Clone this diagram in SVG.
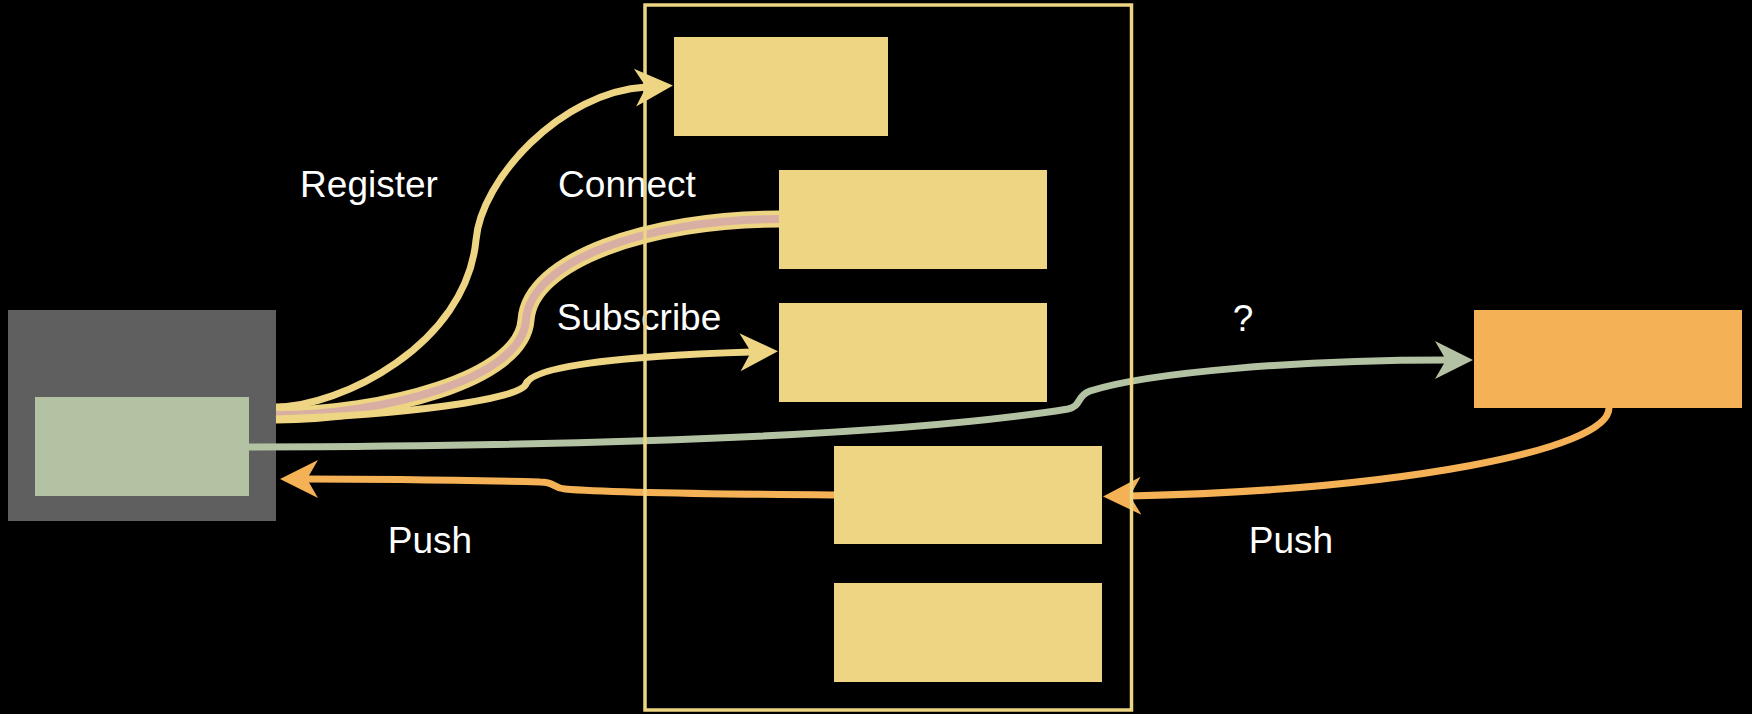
<svg xmlns="http://www.w3.org/2000/svg" width="1752" height="714" viewBox="0 0 1752 714">
<style>
.bg{fill:#000}
.yel{fill:#EDD583}
.lbl{font-family:"Liberation Sans",Arial,sans-serif;font-size:37px;fill:#FFFFFF;text-anchor:middle}
.ln{fill:none;stroke-width:7;stroke-linecap:butt;stroke-linejoin:round}
</style>
<defs>
<marker id="aY" markerUnits="userSpaceOnUse" viewBox="-12 -20 40 40" refX="0" refY="0" markerWidth="40" markerHeight="40" orient="auto" overflow="visible">
<path d="M27 0 L-11 -19 L0 0 L-11 19 Z" fill="#EDD583"/>
</marker>
<marker id="aG" markerUnits="userSpaceOnUse" viewBox="-12 -20 40 40" refX="0" refY="0" markerWidth="40" markerHeight="40" orient="auto" overflow="visible">
<path d="M27 0 L-11 -19 L0 0 L-11 19 Z" fill="#B3C2A3"/>
</marker>
<marker id="aO" markerUnits="userSpaceOnUse" viewBox="-12 -20 40 40" refX="0" refY="0" markerWidth="40" markerHeight="40" orient="auto" overflow="visible">
<path d="M27 0 L-11 -19 L0 0 L-11 19 Z" fill="#F5B155"/>
</marker>
</defs>
<rect class="bg" x="0" y="0" width="1752" height="714"/>

<g id="client-outer"><rect x="8" y="310" width="268" height="211" fill="#5F5F5F"/></g>
<g id="client-inner"><rect x="35" y="397" width="214" height="99" fill="#B3C2A3"/></g>
<g id="box1"><rect class="yel" x="674" y="37" width="214" height="99"/></g>
<g id="box2"><rect class="yel" x="779" y="170" width="268" height="99"/></g>
<g id="box3"><rect class="yel" x="779" y="303" width="268" height="99"/></g>
<g id="box4"><rect class="yel" x="834" y="446" width="268" height="98"/></g>
<g id="box5"><rect class="yel" x="834" y="583" width="268" height="99"/></g>
<g id="external"><rect x="1474" y="310" width="268" height="98" fill="#F5B155"/></g>

<g id="connectors">
<path class="ln" stroke="#EDD583" d="M276 407 C340 407 466 345 476 240 C481 180 560 92 646 87" marker-end="url(#aY)"/>
<path fill="none" stroke="#EDD583" stroke-width="17" d="M779 219 C650 219 530 260 526 320 C522 380 380 415 276 415"/>
<path fill="none" stroke="#D9AFA3" stroke-width="8" d="M779 219 C650 219 530 260 526 320 C522 380 380 415 276 415"/>
<path class="ln" stroke="#EDD583" d="M276 419 C400 415 520 400 526 384 C532 366 620 356 751 352" marker-end="url(#aY)"/>
<path class="ln" stroke="#B3C2A3" d="M249 447 C600 446 900 436 1068 409 C1082 406 1076 396 1090 391 C1150 372 1300 360 1446 360" marker-end="url(#aG)"/>
<path class="ln" stroke="#F5B155" d="M1609 408 C1609 450 1400 490 1130 496" marker-end="url(#aO)"/>
<path class="ln" stroke="#F5B155" d="M834 495 C700 494 600 492 565 489 C552 488 556 482 540 482 C450 480 380 479 307 479" marker-end="url(#aO)"/>
</g>

<g id="labels">
<text class="lbl" x="369" y="197">Register</text>
<text class="lbl" x="627" y="197">Connect</text>
<text class="lbl" x="639" y="330">Subscribe</text>
<text class="lbl" x="1243" y="331">?</text>
<text class="lbl" x="430" y="553">Push</text>
<text class="lbl" x="1291" y="553">Push</text>
</g>

<g id="container"><rect x="645" y="5" width="486.5" height="705" fill="none" stroke="#EDD583" stroke-width="3.5"/></g>
</svg>
